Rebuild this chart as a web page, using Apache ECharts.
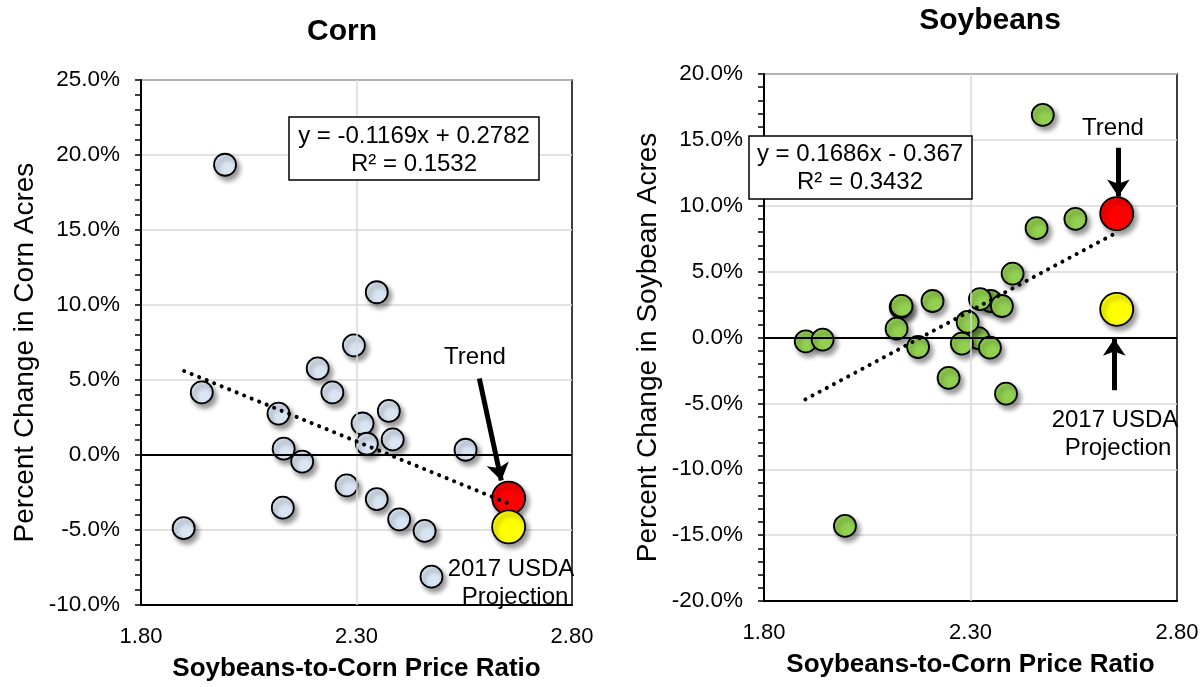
<!DOCTYPE html>
<html>
<head>
<meta charset="utf-8">
<script src="https://cdn.jsdelivr.net/npm/echarts@6/dist/echarts.min.js"></script>
<style>
  html, body { margin: 0; padding: 0; background: #fff; }
  #chart { width: 1203px; height: 687px; }
</style>
</head>
<body>
<div id="chart"></div>
<script>
// ---- Data ----
// Corn: soybean-to-corn price ratio vs % change in corn acres
const cornX = [1.995, 2.347, 2.294, 2.210, 1.941, 2.244, 2.119, 2.375, 2.314, 2.324, 2.384, 2.131, 2.553, 2.174, 2.277, 2.347, 2.129, 2.399, 2.458, 1.899, 2.474];
const cornY = [19.35, 10.85, 7.31, 5.77, 4.17, 4.17, 2.76, 2.94, 2.10, 0.75, 1.04, 0.42, 0.35, -0.44, -2.03, -2.94, -3.51, -4.29, -5.06, -4.88, -8.11];
const cornTrendLineX = [1.90, 2.65];
const cornTrendLineY = [5.6, -3.2];
const cornTrendPoint = [2.653, -2.87];
const cornUSDAPoint = [2.653, -4.79];

// Soybeans: soybean-to-corn price ratio vs % change in soybean acres
const soyX = [2.349, 2.475, 2.554, 2.460, 2.402, 2.208, 2.131, 2.133, 2.323, 2.376, 2.319, 2.121, 2.293, 1.901, 1.942, 2.173, 2.279, 2.347, 2.247, 2.386, 1.996];
const soyY = [2.77, 16.9, 9.0, 8.3, 4.85, 2.77, 2.31, 2.40, 2.92, 2.39, -0.05, 0.67, 1.18, -0.29, -0.16, -0.72, -0.46, -0.77, -3.07, -4.26, -14.3];
const soyTrendLineX = [1.90, 2.65];
const soyTrendLineY = [-4.7, 7.9];
const soyTrendPoint = [2.654, 9.4];
const soyUSDAPoint = [2.654, 2.14];

// Axis ticks
const xTickLabels = [1.8, 2.3, 2.8];
const cornYRange = [-10, 25];
const soyYRange = [-20, 20];

const FONT = "'Liberation Sans', Arial, sans-serif";

function zip(xs, ys) { return xs.map((x, i) => [x, ys[i]]); }

function xAxisCfg(gridIndex) {
  return {
    type: 'value', gridIndex: gridIndex, min: 1.8, max: 2.8, interval: 0.1,
    name: 'Soybeans-to-Corn Price Ratio', nameLocation: 'middle', nameGap: 51,
    nameTextStyle: { fontFamily: FONT, fontSize: 26, fontWeight: 'bold', color: '#000' },
    axisLine: { show: true, onZero: false, lineStyle: { color: '#000', width: 2 } },
    axisTick: { show: false },
    splitLine: { show: false },
    axisLabel: {
      margin: 21, fontFamily: FONT, fontSize: 22, color: '#000',
      formatter: function (v) {
        const k = Math.round(v * 10);
        return xTickLabels.some(t => Math.round(t * 10) === k) ? (k / 10).toFixed(2) : '';
      }
    }
  };
}

function yAxisCfg(gridIndex, range, name) {
  return {
    type: 'value', gridIndex: gridIndex, min: range[0], max: range[1], interval: 5,
    name: name, nameLocation: 'middle', nameGap: 102,
    nameTextStyle: { fontFamily: FONT, fontSize: 28, color: '#000', padding: [0, 20, 0, 0] },
    axisLine: { show: true, lineStyle: { color: '#000', width: 2 } },
    axisTick: { show: true, inside: false, length: 6, lineStyle: { color: '#000', width: 1.5 } },
    minorTick: { show: true, splitNumber: 5, length: 6, lineStyle: { color: '#000', width: 1.5 } },
    splitLine: { show: true, lineStyle: { color: '#d9d9d9', width: 1.5 } },
    axisLabel: {
      margin: 21, fontFamily: FONT, fontSize: 22.5, color: '#000',
      formatter: function (v) { return v.toFixed(1) + '%'; }
    }
  };
}

const shadow = { shadowBlur: 5, shadowOffsetX: 3, shadowOffsetY: 4, shadowColor: 'rgba(0,0,0,0.4)' };

function scatter(gi, data, color, size, z) {
  return {
    type: 'scatter', xAxisIndex: gi, yAxisIndex: gi, data: data, symbol: 'circle', symbolSize: size, z: z,
    itemStyle: Object.assign({ color: color, borderColor: '#000', borderWidth: 1.8, opacity: 1 }, shadow),
    emphasis: { disabled: true }, silent: true
  };
}

function gridLines(gi) {
  return {
    type: 'line', xAxisIndex: gi, yAxisIndex: gi, data: [], z: 1, silent: true,
    markLine: {
      silent: true, symbol: ['none', 'none'], label: { show: false }, animation: false,
      data: [
        { xAxis: 2.3, lineStyle: { color: '#d9d9d9', width: 1.5, type: 'solid' } },
        { yAxis: 0, lineStyle: { color: '#000', width: 1.8, type: 'solid' } }
      ]
    }
  };
}

function trendLine(gi, xs, ys) {
  return {
    type: 'line', xAxisIndex: gi, yAxisIndex: gi, data: zip(xs, ys), symbol: 'none', z: 10, silent: true,
    lineStyle: { color: '#000', width: 4, type: [0.1, 8], cap: 'round' }
  };
}

function arrows(gi, segs) {
  return {
    type: 'line', xAxisIndex: gi, yAxisIndex: gi, data: [], z: 11, silent: true,
    markLine: {
      silent: true, symbol: ['none', 'arrow'], symbolSize: [17, 17], label: { show: false }, animation: false,
      lineStyle: { color: '#000', width: 5, type: 'solid' },
      data: segs.map(s => [{ coord: s[0] }, { coord: s[1] }])
    }
  };
}

function txt(x, y, text, opts) {
  return {
    type: 'text', x: x, y: y, z: 100,
    style: Object.assign({ text: text, fill: '#000', font: '24px ' + FONT, align: 'center', verticalAlign: 'middle' }, (opts || {}))
  };
}

const chart = echarts.init(document.getElementById('chart'), null, { renderer: 'canvas' });
chart.setOption({
  animation: false,
  backgroundColor: '#fff',
  grid: [
    { left: 141, top: 80, width: 431, height: 528, show: true, borderColor: '#000', borderWidth: 1.5, backgroundColor: 'transparent' },
    { left: 764, top: 74, width: 413, height: 527, show: true, borderColor: '#000', borderWidth: 1.5, backgroundColor: 'transparent' }
  ],
  xAxis: [xAxisCfg(0), xAxisCfg(1)],
  yAxis: [
    yAxisCfg(0, cornYRange, 'Percent Change in Corn Acres'),
    yAxisCfg(1, soyYRange, 'Percent Change in Soybean Acres')
  ],
  series: [
    gridLines(0),
    scatter(0, zip(cornX, cornY), '#dae5f3', 22, 3),
    scatter(0, [cornTrendPoint], '#ff0000', 33, 4),
    scatter(0, [cornUSDAPoint], '#ffff00', 33, 5),
    trendLine(0, cornTrendLineX, cornTrendLineY),
    arrows(0, [[[2.585, 5.1], [2.636, -1.7]]]),

    gridLines(1),
    scatter(1, zip(soyX, soyY), '#92d050', 22, 3),
    scatter(1, [soyTrendPoint], '#ff0000', 33, 4),
    scatter(1, [soyUSDAPoint], '#ffff00', 33, 5),
    trendLine(1, soyTrendLineX, soyTrendLineY),
    arrows(1, [[[2.658, 14.4], [2.658, 10.7]], [[2.648, -4.0], [2.648, -0.1]]])
  ],
  graphic: [
    txt(342, 32, 'Corn', { font: 'bold 30px ' + FONT }),
    txt(990, 21, 'Soybeans', { font: 'bold 30px ' + FONT }),
    { type: 'rect', z: 99, shape: { x: 289, y: 117, width: 250, height: 63 }, style: { fill: '#fff', stroke: '#000', lineWidth: 1.5 } },
    txt(414, 136, 'y = -0.1169x + 0.2782'),
    txt(414, 164, 'R² = 0.1532'),
    { type: 'rect', z: 99, shape: { x: 749, y: 136, width: 223, height: 63 }, style: { fill: '#fff', stroke: '#000', lineWidth: 1.5 } },
    txt(860, 154, 'y = 0.1686x - 0.367'),
    txt(860, 182, 'R² = 0.3432'),
    txt(475, 357, 'Trend'),
    txt(511, 569, '2017 USDA'),
    txt(515, 597, 'Projection'),
    txt(1113, 128, 'Trend'),
    txt(1115, 420, '2017 USDA'),
    txt(1118, 448, 'Projection')
  ]
});
</script>
</body>
</html>
